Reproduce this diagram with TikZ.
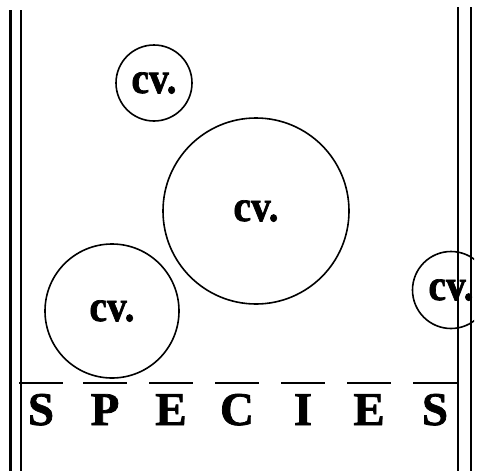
\documentclass[tikz,border=0pt]{standalone}
\usepackage{fontspec}
\setmainfont{Liberation Serif}
\newfontfamily\heavyserif[FakeBold=1.6]{Liberation Serif Bold}
\usepackage{tikz}
\usetikzlibrary{shapes.geometric, positioning}
\newcommand{\cvlabel}{\scalebox{0.9}[1]{cv.}}
\tikzstyle{cvring} = [circle, draw=black, line width=1.6pt, inner sep=0pt, font=\heavyserif\fontsize{44}{44}\selectfont]
\tikzstyle{letter} = [anchor=base, inner sep=0pt, font=\heavyserif\fontsize{47}{47}\selectfont]
\tikzstyle{bar} = [line width=1.6pt]
\tikzstyle{rail} = [line width=2.6pt]

\begin{document}
\begin{tikzpicture}[x=1pt, y=-1pt]
    \useasboundingbox (0,0) rectangle (478,471);
    % cultivar rings
    \node (cvA) [cvring, minimum size=76pt] at (154,83) {\cvlabel};
    \node (cvB) [cvring, minimum size=186pt] at (256,211) {\cvlabel};
    \node (cvC) [cvring, minimum size=134pt] at (112,311) {\cvlabel};
    \begin{scope}
        \clip (0,0) rectangle (474,471);
        \node (cvD) [cvring, minimum size=77pt] at (451,290) {\cvlabel};
    \end{scope}

    % side rails
    \draw [rail, line width=3pt] (10,10) -- (10,471);
    \draw [rail, line width=1.6pt] (21,10) -- (21,471);
    \draw [rail] (458,7) -- (458,471);
    \draw [rail] (471,7) -- (471,471);

    % species label
    \foreach \ch/\cx [count=\i] in {S/41, P/105, E/171, C/237, I/303, E/369, S/435} {
        \node (sp\i) [letter] at (\cx,425) {\ch};
        \draw [bar] (\cx-22,383) -- (\cx+22,383);
    }
\end{tikzpicture}
\end{document}
